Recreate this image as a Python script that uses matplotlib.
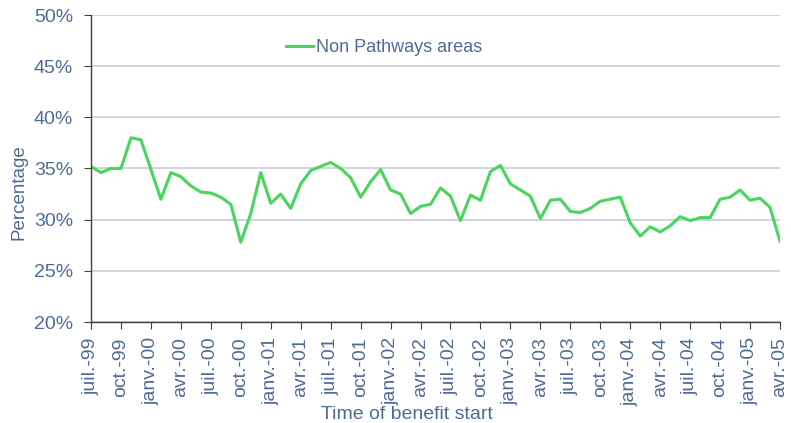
import matplotlib.pyplot as plt
import numpy as np

# monthly share, juil.-99 .. avr.-05
non_pathways = [35.2, 34.6, 35.0, 35.0, 38.0, 37.8, 34.9, 32.0, 34.6, 34.2,
                33.3, 32.7, 32.6, 32.2, 31.5, 27.8, 30.6, 34.6, 31.6, 32.5,
                31.1, 33.5, 34.8, 35.2, 35.6, 35.0, 34.1, 32.2, 33.7, 34.9,
                32.9, 32.5, 30.6, 31.3, 31.5, 33.1, 32.3, 29.9, 32.4, 31.9,
                34.7, 35.3, 33.5, 32.9, 32.3, 30.1, 31.9, 32.0, 30.8, 30.7,
                31.1, 31.8, 32.0, 32.2, 29.7, 28.4, 29.3, 28.8, 29.4, 30.3,
                29.9, 30.2, 30.2, 32.0, 32.2, 32.9, 31.9, 32.1, 31.2, 27.9]

tick_labels = ['juil.-99', 'oct.-99', 'janv.-00', 'avr.-00', 'juil.-00',
               'oct.-00', 'janv.-01', 'avr.-01', 'juil.-01', 'oct.-01',
               'janv.-02', 'avr.-02', 'juil.-02', 'oct.-02', 'janv.-03',
               'avr.-03', 'juil.-03', 'oct.-03', 'janv.-04', 'avr.-04',
               'juil.-04', 'oct.-04', 'janv.-05', 'avr.-05']

y_ticks = [20, 25, 30, 35, 40, 45, 50]

text_col = '#506a98'
grid_col = '#c8cdd9'
spine_col = '#404040'

plt.rcParams['font.family'] = ['Liberation Sans', 'DejaVu Sans']

fig = plt.figure(figsize=(7.91, 4.23), dpi=100)
ax = fig.add_axes([91 / 791, 1 - 322 / 423, 689 / 791, 307 / 423])

x = np.arange(len(non_pathways))
ax.plot(x, non_pathways, color='#4ad65e', lw=2.2, label='Non Pathways areas')

ax.set_xlim(0, len(non_pathways) - 1)
ax.set_ylim(20, 50)
ax.set_yticks(y_ticks)
ax.set_yticklabels([f'{v}%' for v in y_ticks])
ax.set_xticks(np.arange(0, len(non_pathways), 3))
ax.set_xticklabels(tick_labels, rotation=90, ha='center')

ax.grid(axis='y', color=grid_col, lw=1.2)
ax.set_axisbelow(True)
for s in ['top', 'right']:
    ax.spines[s].set_visible(False)
for s in ['left', 'bottom']:
    ax.spines[s].set_color(spine_col)
    ax.spines[s].set_linewidth(1.0)

ax.tick_params(axis='y', colors=spine_col, labelcolor=text_col,
               labelsize=14, length=5, pad=8)
ax.tick_params(axis='x', colors=spine_col, labelcolor=text_col,
               labelsize=14, length=5, pad=6)

ax.set_ylabel('Percentage', color=text_col, fontsize=13.5)
ax.yaxis.set_label_coords(-0.092, 0.423)
ax.set_xlabel('Time of benefit start', color=text_col, fontsize=14)
ax.xaxis.set_label_coords((407 - 91) / 689, -0.272)

leg = ax.legend(loc='center left', bbox_to_anchor=(195 / 689, 274 / 307),
                frameon=False, fontsize=13, borderpad=0, borderaxespad=0,
                handlelength=1.5, handletextpad=0.15)
for t in leg.get_texts():
    t.set_color(text_col)

fig.savefig('out.png', dpi=100)
